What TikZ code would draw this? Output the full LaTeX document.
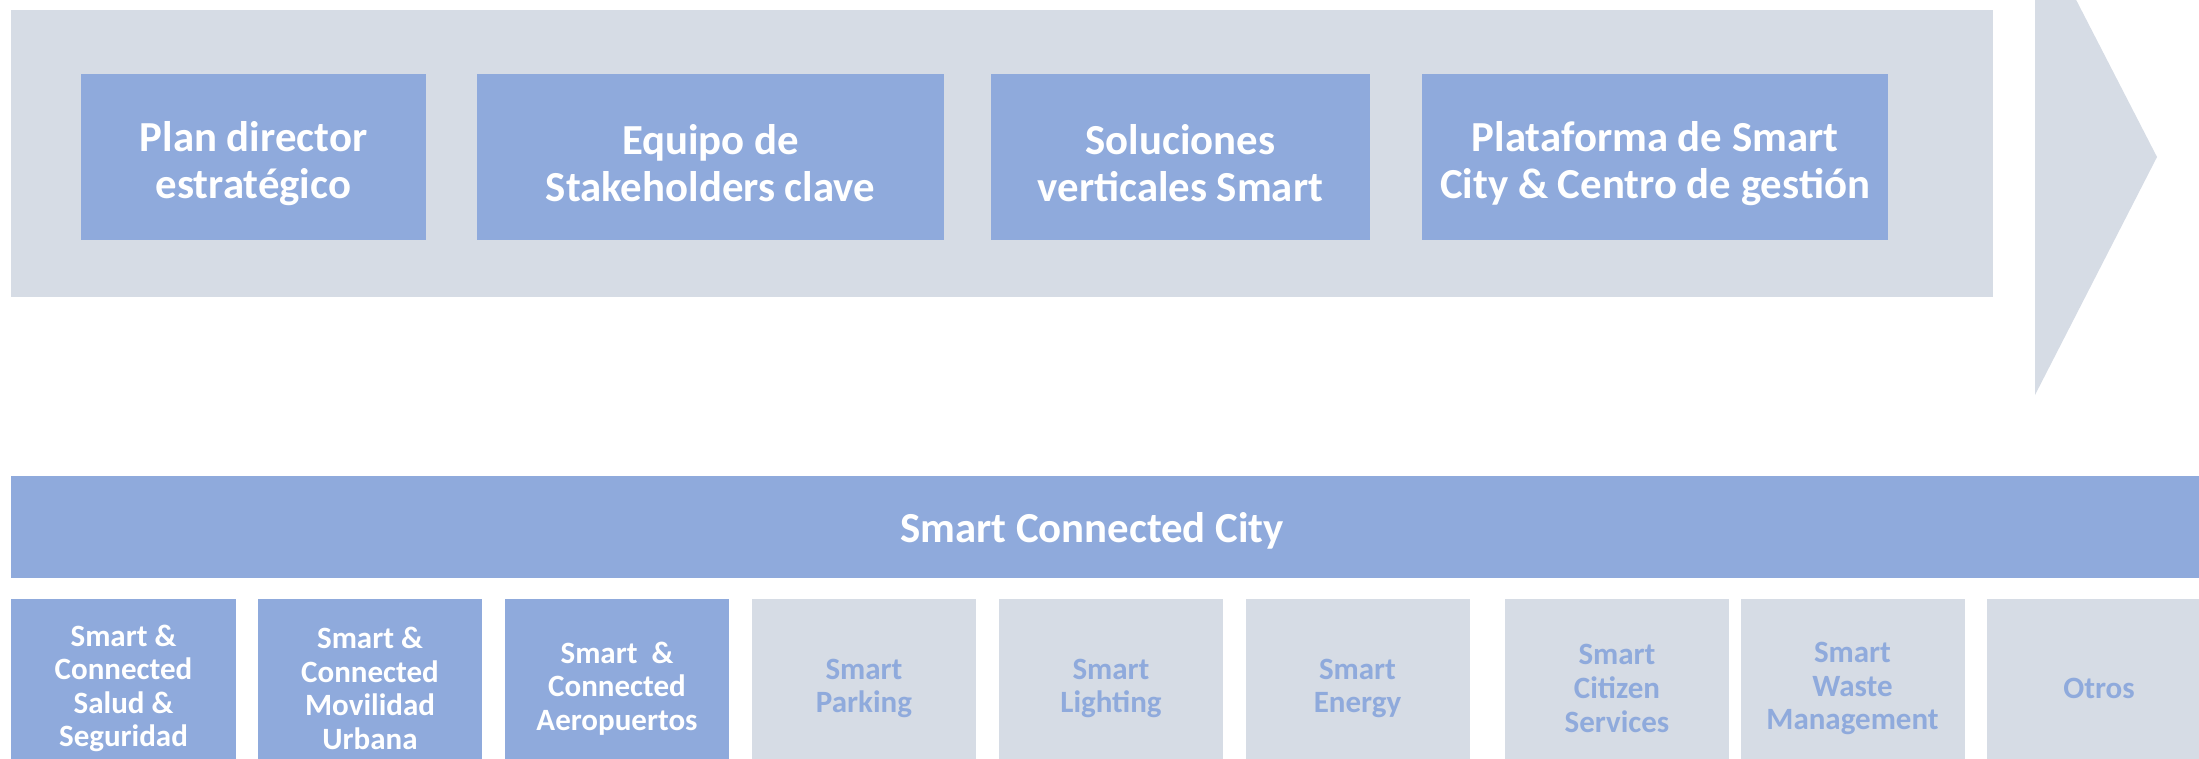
\documentclass[tikz,border=0pt]{standalone}
\usepackage{fontspec}
\setmainfont{Carlito}
\usepackage{tikz}

\definecolor{bandgray}{HTML}{D6DCE5}
\definecolor{boxblue}{HTML}{8FAADC}

\begin{document}
\begin{tikzpicture}[x=0.5pt,y=-0.5pt,
  topbox/.style={fill=boxblue, inner sep=0pt, minimum height=83pt},
  toptext/.style={text=white, align=center, inner sep=0pt, yshift=-3pt,
    font=\fontsize{21.4}{23.5}\selectfont\bfseries},
  activebox/.style={fill=boxblue, inner sep=0pt, minimum width=112pt, minimum height=86pt},
  futurebox/.style={fill=bandgray, inner sep=0pt, minimum width=112pt, minimum height=86pt},
  activetext/.style={text=white, align=center, inner sep=0pt, yshift=-1.75pt,
    font=\fontsize{15.5}{16.8}\selectfont\bfseries},
  futuretext/.style={activetext, text=boxblue}]
\useasboundingbox (0,0) rectangle (2199,759);
\clip (0,0) rectangle (2199,759);

%Shape: Rectangle (top band)
\fill [bandgray] (11,10) rectangle (1993,297) ;
%Shape: Triangle (chevron)
\fill [bandgray] (2035,-80) -- (2157,157) -- (2035,395) -- cycle ;

% Top boxes
\node (plan) [topbox, minimum width=172.5pt] at (253.5,157.5) {};
\node (plan text) [toptext] at (plan.center) {Plan director\\estratégico};
\node (equipo) [topbox, minimum width=233.5pt] at (710.5,157.5) {};
\node (equipo text) [toptext] at (equipo.center) {Equipo de\\Stakeholders clave};
\node (verticales) [topbox, minimum width=189.5pt] at (1180.5,157.5) {};
\node (verticales text) [toptext] at (verticales.center) {Soluciones\\verticales Smart};
\node (plataforma) [topbox, minimum width=233pt] at (1655,157.5) {};
\node (plataforma text) [toptext] at (plataforma.center) {Plataforma de Smart\\City \& Centro de gestión};

%Shape: Rectangle (Smart Connected City bar)
\fill [boxblue] (11,476) rectangle (2210,578) ;
\node (city) [toptext, yshift=1pt] at (1092,527) {Smart Connected City};

% Bottom boxes
\node (salud) [activebox, minimum width=112.5pt] at (123.5,685) {};
\node (salud text) [activetext] at (salud.center) {Smart \&\\Connected\\Salud \&\\Seguridad};
\node (movilidad) [activebox] at (370,685) {};
\node (movilidad text) [activetext] at (movilidad.center) {Smart \&\\Connected\\Movilidad\\Urbana};
\node (aeropuertos) [activebox] at (617,685) {};
\node (aeropuertos text) [activetext] at (aeropuertos.center) {Smart~ \&\\Connected\\Aeropuertos};
\node (parking) [futurebox] at (864,685) {};
\node (parking text) [futuretext] at (parking.center) {Smart\\Parking};
\node (lighting) [futurebox] at (1111,685) {};
\node (lighting text) [futuretext] at (lighting.center) {Smart\\Lighting};
\node (energy) [futurebox] at (1357.5,685) {};
\node (energy text) [futuretext] at (energy.center) {Smart\\Energy};
\node (citizen) [futurebox] at (1617,685) {};
\node (citizen text) [futuretext] at (citizen.center) {Smart\\Citizen\\Services};
\node (waste) [futurebox] at (1852.5,685) {};
\node (waste text) [futuretext] at (waste.center) {Smart\\Waste\\Management};
\node (otros) [futurebox] at (2099,685) {};
\node (otros text) [futuretext] at (otros.center) {Otros};

\end{tikzpicture}
\end{document}
